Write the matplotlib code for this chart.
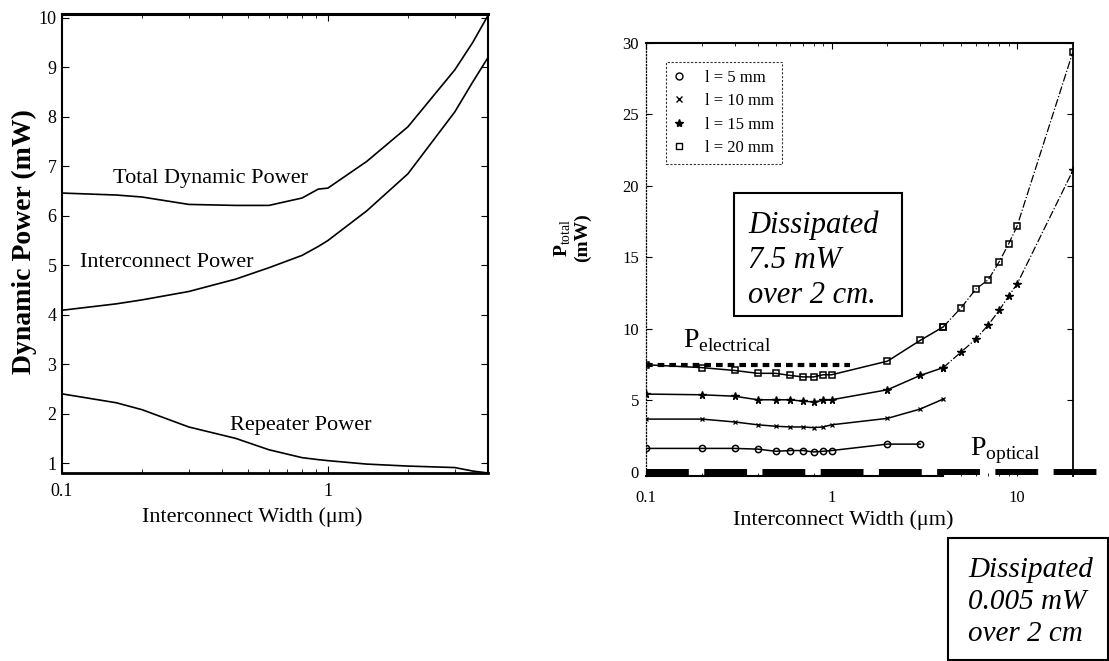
import numpy as np
import matplotlib.pyplot as plt
from matplotlib.lines import Line2D
from matplotlib.patches import Rectangle
from matplotlib.ticker import FixedLocator, FixedFormatter, NullFormatter

plt.rcParams['font.family'] = 'serif'
plt.rcParams['font.serif'] = ['Liberation Serif', 'DejaVu Serif']
plt.rcParams['mathtext.fontset'] = 'custom'
plt.rcParams['mathtext.rm'] = 'Liberation Serif'
plt.rcParams['mathtext.bf'] = 'Liberation Serif:bold'

# left panel: dynamic power components vs interconnect width (um, mW)
width = [0.1, 0.16, 0.2, 0.3, 0.45, 0.6, 0.8, 0.92, 1.0, 1.4, 2.0, 3.0, 3.5, 4.0]
total_power = [6.46, 6.42, 6.38, 6.23, 6.21, 6.21, 6.36, 6.54, 6.56, 7.1, 7.8, 8.95, 9.5, 10.05]
interconnect_power = [4.09, 4.22, 4.3, 4.47, 4.72, 4.95, 5.2, 5.38, 5.5, 6.1, 6.85, 8.1, 8.7, 9.2]
repeater_power = [2.4, 2.22, 2.08, 1.73, 1.5, 1.27, 1.11, 1.07, 1.05, 0.98, 0.94, 0.91, 0.84, 0.8]

# right panel: total power for several line lengths
w_5mm = [0.1, 0.2, 0.3, 0.4, 0.5, 0.6, 0.7, 0.8, 0.9, 1.0, 2, 3]
p_5mm = [1.65, 1.65, 1.65, 1.6, 1.45, 1.5, 1.5, 1.4, 1.45, 1.5, 1.95, 1.95]
w_10mm = [0.1, 0.2, 0.3, 0.4, 0.5, 0.6, 0.7, 0.8, 0.9, 1.0, 2, 3, 4]
p_10mm = [3.7, 3.7, 3.5, 3.3, 3.2, 3.15, 3.15, 3.1, 3.15, 3.3, 3.75, 4.4, 5.1]
w_long = [0.1, 0.2, 0.3, 0.4, 0.5, 0.6, 0.7, 0.8, 0.9, 1.0, 2, 3, 4, 5, 6, 7, 8, 9, 10, 20]
p_15mm = [5.45, 5.4, 5.3, 5.05, 5.05, 5.05, 4.95, 4.9, 5.0, 5.05,
          5.75, 6.75, 7.3, 8.4, 9.3, 10.3, 11.3, 12.3, 13.15, 21.1]
p_20mm = [7.5, 7.3, 7.1, 6.9, 6.9, 6.75, 6.65, 6.65, 6.8, 6.8,
          7.75, 9.2, 10.15, 11.5, 12.8, 13.45, 14.7, 15.95, 17.2, 29.4]

# reference levels
p_electrical = 7.5
w_electrical = [0.1, 1.25]
p_optical = 0.005
w_optical = [0.1, 27.6]

W, H = 1109, 661


def px_box(left, top, right, bottom):
    return [left / W, 1 - bottom / H, (right - left) / W, (bottom - top) / H]


fig = plt.figure(figsize=(W / 100, H / 100), dpi=100)

# ---- left panel ----
ax1 = fig.add_axes(px_box(62, 14, 488, 473))
ax1.plot(width, total_power, 'k-', lw=1.2)
ax1.plot(width, interconnect_power, 'k-', lw=1.2)
ax1.plot(width, repeater_power, 'k-', lw=1.2)
ax1.set_xscale('log')
ax1.set_xlim(0.1, 4)
ax1.set_ylim(0.8, 10.08)
ax1.xaxis.set_major_locator(FixedLocator([0.1, 1]))
ax1.xaxis.set_major_formatter(FixedFormatter(['0.1', '1']))
ax1.xaxis.set_minor_formatter(NullFormatter())
ax1.set_yticks(range(1, 11))
ax1.tick_params(which='both', direction='in', top=True, right=True, labelsize=13)
ax1.tick_params(axis='x', pad=7)
ax1.tick_params(axis='y', pad=4)
ax1.tick_params(which='major', length=5)
ax1.tick_params(which='minor', length=3)
for s in ax1.spines.values():
    s.set_linewidth(1.5)
ax1.spines['top'].set_linewidth(2.2)
ax1.spines['bottom'].set_linewidth(2.0)

ax1.text(0.156, 6.66, 'Total Dynamic Power', fontsize=16, va='baseline')
ax1.text(0.117, 4.96, 'Interconnect Power', fontsize=16, va='baseline')
ax1.text(0.43, 1.67, 'Repeater Power', fontsize=16, va='baseline')
ax1.set_xlabel('Interconnect Width (\u03bcm)', fontsize=16)
ax1.xaxis.set_label_coords(0.446, -0.075)
ax1.set_ylabel('Dynamic Power (mW)', fontsize=20, fontweight='bold')
ax1.yaxis.set_label_coords(-0.058, 0.505)

# ---- right panel ----
ax2 = fig.add_axes(px_box(646, 43, 1073, 476))
ax2.set_xscale('log')

w_long_a = np.array(w_long)
solid = w_long_a <= 4
dashed = w_long_a >= 4
p20 = np.array(p_20mm)
p15 = np.array(p_15mm)
ax2.plot(w_long_a[solid], p20[solid], 'k-', lw=1.1, marker='s', ms=4.5, mfc='none', mew=1.1)
ax2.plot(w_long_a[dashed], p20[dashed], 'k-.', lw=0.9, marker='s', ms=4.5, mfc='none', mew=1.1)
ax2.plot(w_long_a[solid], p15[solid], 'k-', lw=1.1, marker='*', ms=5.5)
ax2.plot(w_long_a[dashed], p15[dashed], 'k-.', lw=0.9, marker='*', ms=5.5)
ax2.plot(w_10mm, p_10mm, 'k-', lw=1.1, marker='x', ms=3, mew=0.9)
ax2.plot(w_5mm, p_5mm, 'k-', lw=1.1, marker='o', ms=4.5, mfc='none', mew=1.1)

ax2.plot(w_electrical, [p_electrical] * 2, color='k', lw=3, ls=(0, (1.6, 1.2)),
         solid_capstyle='butt', dash_capstyle='butt')
ax2.plot(w_optical, [p_optical] * 2, color='k', lw=4.3, ls=(0, (7.17, 2.58)),
         dash_capstyle='butt', clip_on=False)

ax2.set_xlim(0.1, 20)
ax2.set_ylim(-0.28, 30)
ax2.xaxis.set_major_locator(FixedLocator([0.1, 1, 10]))
ax2.xaxis.set_major_formatter(FixedFormatter(['0.1', '1', '10']))
ax2.xaxis.set_minor_formatter(NullFormatter())
ax2.set_yticks(range(0, 31, 5))
ax2.tick_params(which='both', direction='in', top=True, right=True, labelsize=12)
ax2.tick_params(axis='x', pad=10)
ax2.tick_params(axis='y', pad=5)
ax2.tick_params(which='major', length=4)
ax2.tick_params(which='minor', length=2.5)
ax2.spines['left'].set_linestyle(':')
ax2.spines['left'].set_linewidth(0.9)
ax2.spines['top'].set_linewidth(1.5)
ax2.spines['right'].set_linewidth(1.3)
ax2.spines['bottom'].set_linewidth(1.5)
ax2.spines['bottom'].set_bounds(0.1, 4)

ax2.text(0.158, 8.74, r'$\mathrm{P}_{\mathrm{electrical}}$', fontsize=20, va='baseline')
ax2.text(5.57, 1.19, r'$\mathrm{P}_{\mathrm{optical}}$', fontsize=20, va='baseline')
ax2.set_xlabel('Interconnect Width (\u03bcm)', fontsize=16)
ax2.xaxis.set_label_coords(0.461, -0.078)

fig.text(572 / W, 1 - 238 / H, r'$\mathbf{P}_{\mathrm{total}}$' + '\n(mW)', rotation=90,
         ha='center', va='center', fontsize=14, fontweight='bold', linespacing=1.0)

handles = [
    Line2D([], [], ls='none', marker='o', mfc='none', mec='k', ms=5, mew=1),
    Line2D([], [], ls='none', marker='x', color='k', ms=5, mew=1),
    Line2D([], [], ls='none', marker='*', color='k', ms=6),
    Line2D([], [], ls='none', marker='s', mfc='none', mec='k', ms=5, mew=1),
]
labels = ['l = 5 mm', 'l = 10 mm', 'l = 15 mm', 'l = 20 mm']
leg = ax2.legend(handles, labels, loc='upper left', bbox_to_anchor=(0.047, 0.956),
                 fontsize=12, frameon=True, fancybox=False, edgecolor='k',
                 handlelength=0.7, handletextpad=1.2, labelspacing=0.45,
                 borderpad=0.45, borderaxespad=0)
leg.get_frame().set_linestyle((0, (2, 1.5)))
leg.get_frame().set_linewidth(0.8)

# dissipation notes
fig.add_artist(Rectangle((734 / W, 1 - 316 / H), (902 - 734) / W, (316 - 193) / H,
                         transform=fig.transFigure, fill=False, ec='k', lw=1.5))
fig.text(748 / W, 1 - 210 / H, 'Dissipated\n7.5 mW\nover 2 cm.', fontsize=22,
         style='italic', va='top', ha='left', linespacing=1.28)
fig.add_artist(Rectangle((948 / W, 1 - 660 / H), (1108 - 948) / W, (660 - 538) / H,
                         transform=fig.transFigure, fill=False, ec='k', lw=1.5))
fig.text(968 / W, 1 - 557 / H, 'Dissipated\n0.005 mW\nover 2 cm', fontsize=21,
         style='italic', va='top', ha='left', linespacing=1.3)

fig.savefig('out.png', dpi=100)
